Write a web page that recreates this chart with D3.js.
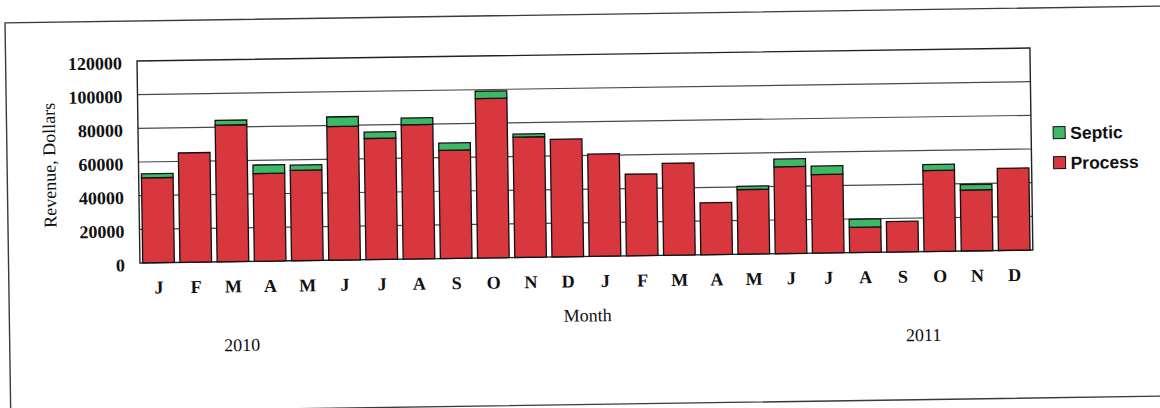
<!DOCTYPE html>
<html>
<head>
<meta charset="utf-8">
<script src="https://cdn.jsdelivr.net/npm/d3@7"></script>
<style>
  html, body { margin: 0; padding: 0; background: #fff; }
  svg { display: block; }
</style>
</head>
<body>
<svg id="chart" width="1160" height="408"></svg>
<script>
// Monthly revenue, 2010–2011, split into process and septic income
const months = ["J","F","M","A","M","J","J","A","S","O","N","D",
                "J","F","M","A","M","J","J","A","S","O","N","D"];
const years = ["2010", "2011"];
const processRevenue = [50500, 65000, 81200, 52100, 53700, 79400, 72000, 79800, 64300, 94700, 71500, 69900,
                        60800, 48500, 54600, 30900, 38400, 51600, 46700, 15000, 18100, 48100, 36200, 48800];
const septicRevenue  = [2400, 0, 2800, 5100, 3100, 5700, 3800, 4000, 4300, 4400, 1800, 0,
                        0, 0, 0, 0, 2000, 4600, 5000, 4800, 0, 3600, 3200, 0];
const yTicks = [0, 20000, 40000, 60000, 80000, 100000, 120000];
const seriesNames = ["Process", "Septic"];
const seriesColors = { Process: "#d8373e", Septic: "#3db866" };

const rows = months.map((m, i) => ({
  id: i, month: m, Process: processRevenue[i], Septic: septicRevenue[i]
}));

const svg = d3.select("#chart");
const plot = { left: 137, right: 1030, top: 61, bottom: 263 };

// whole page sits slightly tilted
const g = svg.append("g").attr("transform", `rotate(-0.834 ${plot.left} ${plot.top})`);

// outer frame
g.append("rect")
  .attr("x", 5.6).attr("y", 21)
  .attr("width", 1220).attr("height", 390)
  .attr("fill", "none").attr("stroke", "#3a3a3a").attr("stroke-width", 1.4);

const x = d3.scaleBand()
  .domain(rows.map(d => d.id))
  .range([plot.left, plot.right])
  .paddingInner(0.15)
  .paddingOuter(0.075);

const y = d3.scaleLinear()
  .domain([0, 120000])
  .range([plot.bottom, plot.top]);

// gridlines
g.append("g")
  .selectAll("line")
  .data(yTicks.filter(t => t > 0 && t < 120000))
  .join("line")
  .attr("x1", plot.left).attr("x2", plot.right)
  .attr("y1", d => y(d)).attr("y2", d => y(d))
  .attr("stroke", "#4a4a4a").attr("stroke-width", 1.2);

// plot border
g.append("rect")
  .attr("x", plot.left).attr("y", plot.top)
  .attr("width", plot.right - plot.left).attr("height", plot.bottom - plot.top)
  .attr("fill", "none").attr("stroke", "#222").attr("stroke-width", 1.4);

// stacked bars
const stack = d3.stack().keys(seriesNames)(rows);
g.append("g")
  .selectAll("g")
  .data(stack)
  .join("g")
  .attr("fill", d => seriesColors[d.key])
  .selectAll("rect")
  .data(d => d.filter(p => p[1] > p[0]))
  .join("rect")
  .attr("x", d => x(d.data.id))
  .attr("width", x.bandwidth())
  .attr("y", d => y(d[1]))
  .attr("height", d => y(d[0]) - y(d[1]))
  .attr("stroke", "#111").attr("stroke-width", 1.3);

// y axis
const yAxis = d3.axisLeft(y).tickValues(yTicks).tickSize(0).tickPadding(15).tickFormat(d3.format("d"));
const ya = g.append("g").attr("transform", `translate(${plot.left},0)`).call(yAxis);
ya.select(".domain").remove();
ya.selectAll("text")
  .attr("font-family", "'Liberation Serif', 'Times New Roman', serif")
  .attr("font-weight", "bold").attr("font-size", 18).attr("fill", "#111")
  .attr("dy", "0.42em");

// x axis
const xAxis = d3.axisBottom(x).tickSize(0).tickPadding(18).tickFormat(i => months[i]);
const xa = g.append("g").attr("transform", `translate(0,${plot.bottom})`).call(xAxis);
xa.select(".domain").remove();
xa.selectAll("text")
  .attr("font-family", "'Liberation Serif', 'Times New Roman', serif")
  .attr("font-weight", "bold").attr("font-size", 18).attr("fill", "#111")
  .attr("dy", "0.71em");

// axis titles
g.append("text")
  .attr("transform", `translate(54,${(plot.top + plot.bottom) / 2 + 2}) rotate(-90)`)
  .attr("text-anchor", "middle")
  .attr("font-family", "'Liberation Serif', 'Times New Roman', serif")
  .attr("font-size", 18).attr("fill", "#111")
  .text("Revenue, Dollars");

g.append("text")
  .attr("x", 584).attr("y", 328)
  .attr("text-anchor", "middle")
  .attr("font-family", "'Liberation Serif', 'Times New Roman', serif")
  .attr("font-size", 18).attr("fill", "#111")
  .text("Month");

// year labels under each group of twelve months
const yearCentres = [x(2) + x.bandwidth() * 0.75, x(21) - x.bandwidth() * 0.05];
g.append("g")
  .selectAll("text")
  .data(years)
  .join("text")
  .attr("x", (d, i) => yearCentres[i])
  .attr("y", 352.5)
  .attr("text-anchor", "middle")
  .attr("font-family", "'Liberation Serif', 'Times New Roman', serif")
  .attr("font-size", 18).attr("fill", "#111")
  .text(d => d);

// legend
const legend = g.append("g").attr("transform", "translate(1052,140)");
const legendItems = ["Septic", "Process"];
const li = legend.selectAll("g")
  .data(legendItems)
  .join("g")
  .attr("transform", (d, i) => `translate(0,${i * 30})`);
li.append("rect")
  .attr("width", 12).attr("height", 12)
  .attr("fill", d => seriesColors[d])
  .attr("stroke", "#111").attr("stroke-width", 1);
li.append("text")
  .attr("x", 17).attr("y", 12.5)
  .attr("font-family", "'Liberation Sans', Arial, sans-serif")
  .attr("font-weight", "bold").attr("font-size", 17.5).attr("fill", "#111")
  .text(d => d);
</script>
</body>
</html>
